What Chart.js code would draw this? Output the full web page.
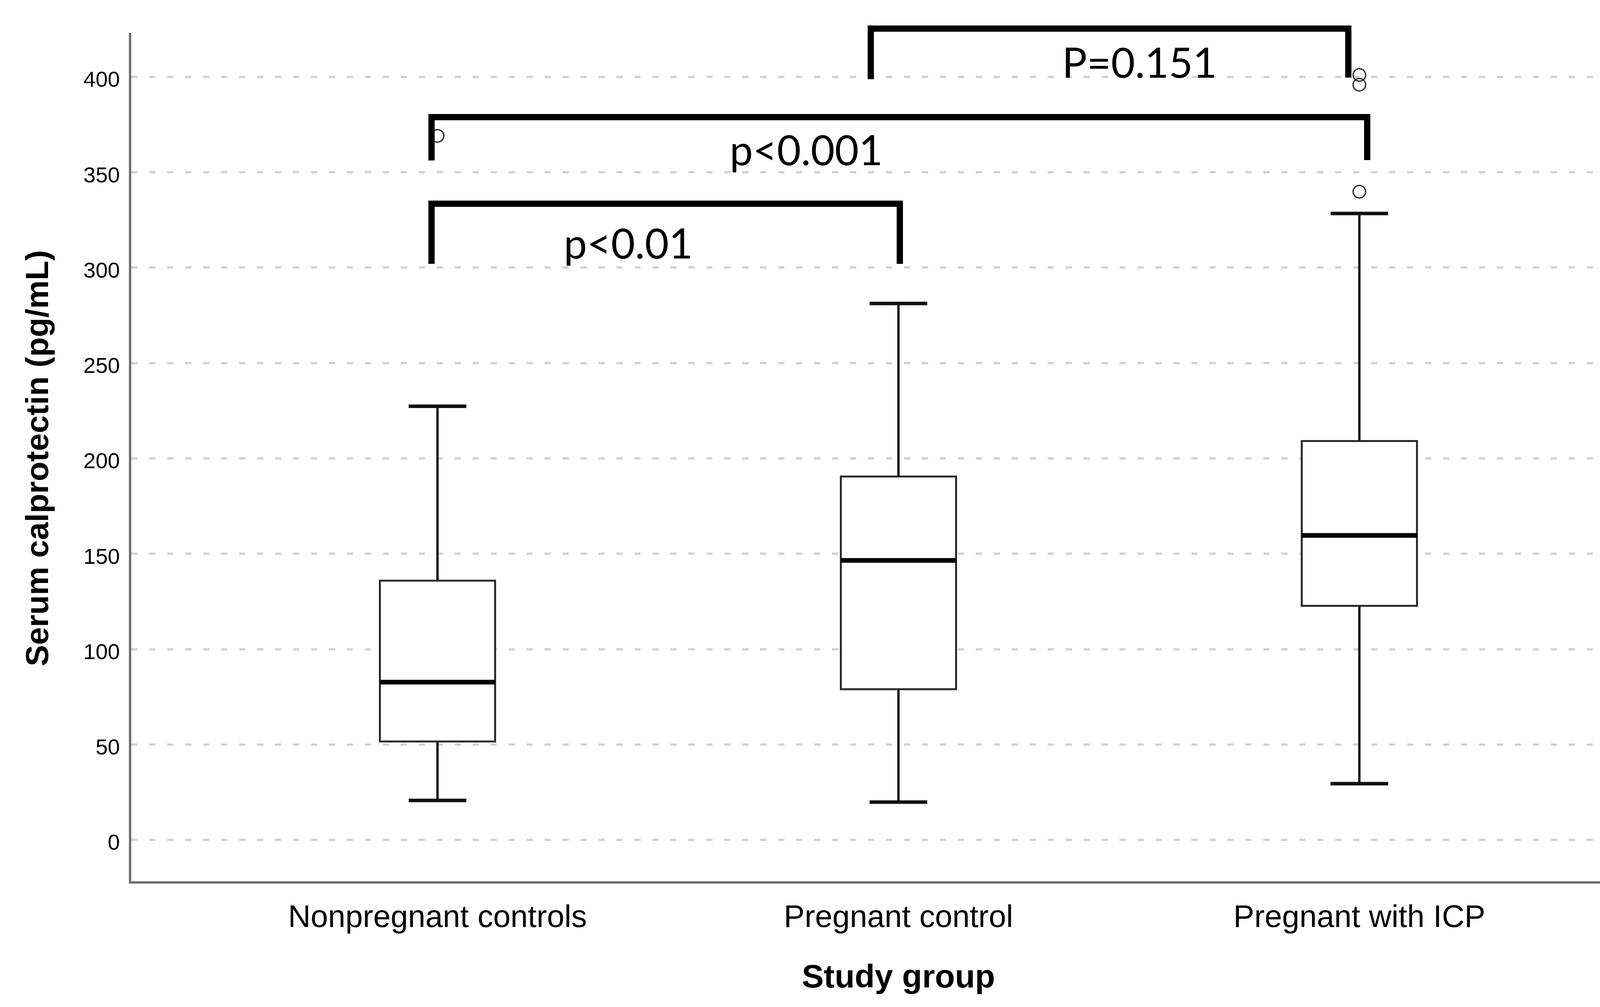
<!DOCTYPE html>
<html>
<head>
<meta charset="utf-8">
<script src="https://cdn.jsdelivr.net/npm/chart.js@4.4.1/dist/chart.umd.min.js"></script>
<style>
    html, body { margin: 0; padding: 0; background: #fff; }
    #wrap { width: 4353px; height: 2579px; position: relative; }
</style>
</head>
<body>
<div id="wrap"><canvas id="boxChart"></canvas></div>
<script>
// groups and box plot summary values (pg/mL)
const groups = ['Nonpregnant controls', 'Pregnant control', 'Pregnant with ICP'];
const whiskerLow = [20.7, 19.8, 29.5];
const q1 = [51.6, 79.0, 122.7];
const median = [82.7, 146.5, 159.6];
const q3 = [135.9, 190.5, 209.1];
const whiskerHigh = [227.3, 281.2, 328.4];
const outliers = [[369.1], [], [339.8, 395.9, 401.0]];

const yTicks = [0, 50, 100, 150, 200, 250, 300, 350, 400];

// significance brackets (x in group units, y in pg/mL)
const bracketFrom = [1.94, 0.987, 0.987];
const bracketTo = [2.976, 3.017, 2.003];
const bracketTop = [425.3, 378.9, 333.5];
const bracketLegFrom = [398.8, 356.2, 302.0];
const bracketLegTo = [399.6, 356.4, 302.0];
const pText = ['P=0.151', 'p<0.001', 'p<0.01'];
const pTextX = [2.523, 1.80, 1.414];
const pTextY = [399.6, 353.8, 304.7];

const axisGrey = '#6e6e6e';

let bracketSets = pText.map((t, i) => ({
    type: 'line',
    label: t,
    data: [
        {x: bracketFrom[i], y: bracketLegFrom[i]},
        {x: bracketFrom[i], y: bracketTop[i]},
        {x: bracketTo[i], y: bracketTop[i]},
        {x: bracketTo[i], y: bracketLegTo[i]}
    ],
    showLine: true,
    borderColor: '#000',
    borderWidth: 16,
    borderJoinStyle: 'miter',
    borderCapStyle: 'butt',
    pointRadius: 0,
    tension: 0,
    clip: false,
    order: 0
}));

let outlierPoints = [];
outliers.forEach((list, i) => {
    list.forEach(v => outlierPoints.push({x: i + 1, y: v}));
});

// boxes and whiskers drawn on the chart's own scales
const boxPlugin = {
    id: 'boxes',
    beforeDatasetsDraw(chart) {
        const {ctx, scales: {x, y}} = chart;
        const halfBox = 0.125, halfCap = 0.0625;
        ctx.save();
        groups.forEach((g, i) => {
            const cx = x.getPixelForValue(i + 1);
            const left = x.getPixelForValue(i + 1 - halfBox);
            const right = x.getPixelForValue(i + 1 + halfBox);
            const capL = x.getPixelForValue(i + 1 - halfCap);
            const capR = x.getPixelForValue(i + 1 + halfCap);

            // whiskers
            ctx.strokeStyle = '#111';
            ctx.lineWidth = 6;
            ctx.beginPath();
            ctx.moveTo(cx, y.getPixelForValue(q3[i]));
            ctx.lineTo(cx, y.getPixelForValue(whiskerHigh[i]));
            ctx.moveTo(cx, y.getPixelForValue(q1[i]));
            ctx.lineTo(cx, y.getPixelForValue(whiskerLow[i]));
            ctx.stroke();

            // caps
            ctx.lineWidth = 9;
            ctx.beginPath();
            ctx.moveTo(capL, y.getPixelForValue(whiskerHigh[i]));
            ctx.lineTo(capR, y.getPixelForValue(whiskerHigh[i]));
            ctx.moveTo(capL, y.getPixelForValue(whiskerLow[i]));
            ctx.lineTo(capR, y.getPixelForValue(whiskerLow[i]));
            ctx.stroke();

            // box
            const top = y.getPixelForValue(q3[i]);
            const bottom = y.getPixelForValue(q1[i]);
            ctx.fillStyle = '#fff';
            ctx.fillRect(left, top, right - left, bottom - top);
            ctx.lineWidth = 5;
            ctx.strokeStyle = '#2a2a2a';
            ctx.strokeRect(left, top, right - left, bottom - top);

            // median
            ctx.strokeStyle = '#000';
            ctx.lineWidth = 12;
            ctx.beginPath();
            ctx.moveTo(left, y.getPixelForValue(median[i]));
            ctx.lineTo(right, y.getPixelForValue(median[i]));
            ctx.stroke();
        });
        ctx.restore();
    }
};

const pValuePlugin = {
    id: 'pvalues',
    afterDatasetsDraw(chart) {
        const {ctx, scales: {x, y}} = chart;
        ctx.save();
        ctx.font = '106px Lato';
        ctx.fillStyle = '#000';
        ctx.textAlign = 'center';
        ctx.textBaseline = 'alphabetic';
        pText.forEach((t, i) => {
            ctx.fillText(t, x.getPixelForValue(pTextX[i]), y.getPixelForValue(pTextY[i]));
        });
        ctx.restore();
    }
};

new Chart(document.getElementById('boxChart'), {
    type: 'scatter',
    data: {
        datasets: [
            ...bracketSets,
            {
                label: 'Outliers',
                data: outlierPoints,
                pointRadius: 16,
                pointBorderWidth: 3.5,
                pointBorderColor: '#333',
                pointBackgroundColor: 'rgba(0,0,0,0)',
                order: 1
            }
        ]
    },
    options: {
        responsive: true,
        maintainAspectRatio: false,
        devicePixelRatio: 1,
        animation: false,
        layout: {padding: {top: 87, right: 86, left: 0, bottom: 0}},
        plugins: {
            legend: {display: false},
            tooltip: {enabled: false}
        },
        scales: {
            x: {
                type: 'linear',
                min: 0.333,
                max: 3.667,
                afterBuildTicks: scale => {
                    scale.ticks = groups.map((g, i) => ({value: i + 1}));
                },
                afterFit: scale => { scale.height = 319; },
                grid: {display: false},
                border: {display: true, color: axisGrey, width: 6},
                ticks: {
                    callback: v => groups[v - 1],
                    color: '#000',
                    padding: 36,
                    maxRotation: 0,
                    autoSkip: false,
                    font: {family: 'Liberation Sans', size: 80}
                },
                title: {
                    display: true,
                    text: 'Study group',
                    color: '#000',
                    padding: {top: 0, bottom: 23},
                    font: {family: 'Liberation Sans', size: 84, weight: 'bold'}
                }
            },
            y: {
                min: -22.3,
                max: 422.5,
                afterBuildTicks: scale => {
                    scale.ticks = yTicks.map(v => ({value: v}));
                },
                afterFit: scale => { scale.width = 333; },
                grid: {
                    color: '#d2d2d2',
                    lineWidth: 6,
                    drawTicks: false
                },
                border: {display: true, color: axisGrey, width: 6, dash: [16, 30]},
                ticks: {
                    color: '#000',
                    padding: 26,
                    labelOffset: 10,
                    font: {family: 'Liberation Sans', size: 56}
                },
                title: {
                    display: true,
                    text: 'Serum calprotectin (pg/mL)',
                    color: '#000',
                    padding: {top: 51, bottom: 0},
                    font: {family: 'Liberation Sans', size: 82, weight: 'bold'}
                }
            }
        }
    },
    plugins: [boxPlugin, pValuePlugin]
});
</script>
</body>
</html>
